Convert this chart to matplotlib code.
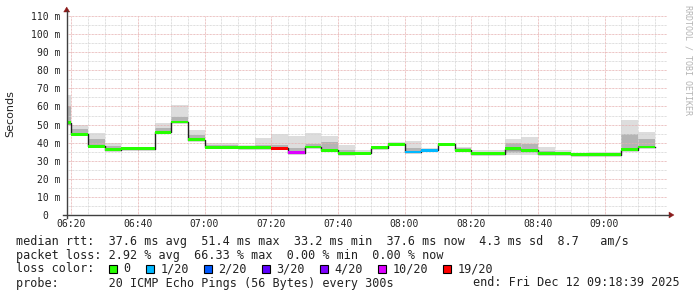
import matplotlib
matplotlib.use("Agg")
import matplotlib.pyplot as plt
from matplotlib.lines import Line2D
from matplotlib.patches import Rectangle, Polygon

# ---------------- data ----------------
times = ["06:15", "06:20", "06:25", "06:30", "06:35", "06:40", "06:45", "06:50",
         "06:55", "07:00", "07:05", "07:10", "07:15", "07:20", "07:25", "07:30",
         "07:35", "07:40", "07:45", "07:50", "07:55", "08:00", "08:05", "08:10",
         "08:15", "08:20", "08:25", "08:30", "08:35", "08:40", "08:45", "08:50",
         "08:55", "09:00", "09:05", "09:10"]
median = [51.0, 44.5, 38.0, 36.1, 36.7, 36.7, 45.7, 51.4,
          41.7, 37.4, 37.4, 37.1, 37.1, 36.8, 34.5, 37.6,
          35.8, 34.1, 34.1, 37.3, 39.0, 34.8, 35.8, 39.0,
          35.8, 33.9, 33.9, 36.6, 35.8, 33.8, 33.8, 33.2,
          33.2, 33.2, 36.2, 37.6]
smoke_hi = [66.3, 49.7, 45.5, 40.0, 36.7, 36.7, 51.0, 60.8,
            47.0, 39.6, 39.6, 38.5, 42.4, 44.8, 43.7, 45.5,
            43.7, 38.7, 35.9, 37.3, 40.2, 40.9, 37.2, 40.0,
            37.8, 35.9, 35.9, 42.0, 43.3, 37.8, 35.9, 33.8,
            34.8, 34.8, 52.5, 46.0]
smoke_lo = [49.5, 44.0, 37.5, 35.6, 36.7, 36.7, 45.2, 50.8,
            41.2, 37.0, 37.0, 36.8, 36.8, 36.5, 34.0, 37.2,
            35.0, 32.5, 33.8, 37.3, 38.8, 34.5, 35.5, 38.5,
            35.3, 33.6, 33.6, 33.2, 33.0, 33.2, 33.5, 33.0,
            33.0, 33.0, 35.5, 37.0]
inner_hi = [60.0, 47.5, 42.0, 38.0, 36.7, 36.7, 48.0, 54.0,
            44.0, 38.5, 38.5, 37.8, 38.5, 38.5, 37.0, 39.0,
            40.5, 36.0, 35.0, 37.3, 39.6, 37.0, 36.5, 39.5,
            36.8, 34.8, 34.8, 40.0, 39.0, 35.5, 34.8, 33.5,
            34.0, 34.0, 45.0, 42.0]
inner_lo = [50.0, 44.0, 37.5, 35.8, 36.7, 36.7, 45.4, 51.0,
            41.4, 37.2, 37.2, 37.0, 37.0, 36.7, 34.3, 37.4,
            35.3, 33.5, 34.0, 37.3, 38.9, 34.6, 35.6, 38.7,
            35.5, 33.7, 33.7, 34.5, 34.2, 33.5, 33.6, 33.1,
            33.1, 33.1, 36.0, 37.2]
lost_pings = [0, 0, 0, 0, 0, 0, 0, 0,
              0, 0, 0, 0, 0, 19, 12, 0,
              0, 0, 0, 0, 0, 1, 1, 0,
              0, 0, 0, 0, 0, 0, 0, 0,
              0, 0, 0, 0]

loss_levels = [0, 1, 2, 3, 4, 10, 19]
loss_names = ["0", "1/20", "2/20", "3/20", "4/20", "10/20", "19/20"]
loss_colors = ["#26ff00", "#00b8ff", "#0059ff", "#5e00ff", "#7e00ff", "#dd00ff", "#ff0000"]

xtick_labels = ["06:20", "06:40", "07:00", "07:20", "07:40", "08:00", "08:20", "08:40", "09:00"]
ytick_values = [0, 10, 20, 30, 40, 50, 60, 70, 80, 90, 100, 110]
ytick_labels = ["0  ", "10 m", "20 m", "30 m", "40 m", "50 m", "60 m", "70 m",
                "80 m", "90 m", "100 m", "110 m"]

legend_rtt = "median rtt:  37.6 ms avg  51.4 ms max  33.2 ms min  37.6 ms now  4.3 ms sd  8.7   am/s"
legend_loss = "packet loss: 2.92 % avg  66.33 % max  0.00 % min  0.00 % now"
legend_color_title = "loss color:"
legend_probe = "probe:       20 ICMP Echo Pings (56 Bytes) every 300s"
legend_end = "end: Fri Dec 12 09:18:39 2025"
ylabel = "Seconds"
watermark = "RRDTOOL / TOBI OETIKER"

start_label = "06:18:39"
end_label = "09:18:39"
step_minutes = 5

# ---------------- helpers ----------------
def to_min(s):
    parts = [int(p) for p in s.split(":")]
    m = parts[0] * 60 + parts[1]
    if len(parts) > 2:
        m += parts[2] / 60.0
    return m

W, H = 697, 297
DPI = 100
fig = plt.figure(figsize=(W / DPI, H / DPI), dpi=DPI)
fig.patch.set_facecolor("white")

def fx(x):
    return x / W

def fy(y):
    return 1 - y / H

MONO = "DejaVu Sans Mono"
TXT = "#222222"

ax_left, ax_right, ax_top, ax_bottom = 66.7, 666.7, 16.0, 215.0
ax = fig.add_axes([fx(ax_left), fy(ax_bottom), (ax_right - ax_left) / W, (ax_bottom - ax_top) / H])
ax.set_facecolor("white")
x0, x1 = to_min(start_label), to_min(end_label)
ax.set_xlim(x0, x1)
ax.set_ylim(0, 110)
for sp in ax.spines.values():
    sp.set_visible(False)

tx = [to_min(t) for t in times]

# smoke
for i, t in enumerate(tx):
    if smoke_hi[i] > smoke_lo[i]:
        ax.add_patch(Rectangle((t, smoke_lo[i]), step_minutes, smoke_hi[i] - smoke_lo[i],
                               facecolor="#dddddd", edgecolor="none", zorder=1))
    if inner_hi[i] > inner_lo[i]:
        ax.add_patch(Rectangle((t, inner_lo[i]), step_minutes, inner_hi[i] - inner_lo[i],
                               facecolor="#b4b4b4", edgecolor="none", zorder=1.1))

# grid
dash = (0, (0.72, 0.72))
minor_y = [v + 5 for v in ytick_values[:-1]]
for v in minor_y:
    ax.axhline(v, color="#d4d4d4", lw=0.72, ls=dash, zorder=1.5)
major_x = [to_min(l) for l in xtick_labels]
mx = major_x[0] - 5
while mx < x1:
    if mx not in major_x and mx > x0:
        ax.axvline(mx, color="#d4d4d4", lw=0.72, ls=dash, zorder=1.5)
    mx += 5
for v in ytick_values[1:]:
    ax.axhline(v, color="#e6b0b0", lw=0.72, ls=dash, zorder=1.6)
for v in major_x:
    ax.axvline(v, color="#e6b0b0", lw=0.72, ls=dash, zorder=1.6)

# median step line
sx = tx + [tx[-1] + step_minutes]
sy = median + [median[-1]]
ax.step(sx, sy, where="post", color="#202020", lw=1.0, zorder=2)

# colored median band
def loss_color(n):
    c = loss_colors[0]
    for lvl, col in zip(loss_levels, loss_colors):
        if n >= lvl:
            c = col
    return c

band = 0.8
for i, t in enumerate(tx):
    ax.add_patch(Rectangle((t, median[i] - band), step_minutes, 2 * band,
                           facecolor=loss_color(lost_pings[i]), edgecolor="none", zorder=3))

# ticks
ax.set_xticks(major_x)
ax.set_xticklabels(xtick_labels, fontfamily=MONO, fontsize=7, color=TXT)
ax.set_yticks(ytick_values)
ax.set_yticklabels(ytick_labels, fontfamily=MONO, fontsize=7, color=TXT)
ax.tick_params(axis="both", length=0)
ax.tick_params(axis="x", pad=3.2)
ax.tick_params(axis="y", pad=4.6)

# axis lines with arrows
axis_col = "#404040"
arrow_col = "#8b1a1a"
fig.add_artist(Line2D([fx(63), fx(669)], [fy(ax_bottom), fy(ax_bottom)], color=axis_col, lw=1.0,
                      transform=fig.transFigure))
fig.add_artist(Line2D([fx(ax_left), fx(ax_left)], [fy(218), fy(11)], color=axis_col, lw=1.0,
                      transform=fig.transFigure))
fig.add_artist(Polygon([[fx(669), fy(212)], [fx(674), fy(ax_bottom)], [fx(669), fy(218)]],
                       closed=True, facecolor=arrow_col, edgecolor=arrow_col, lw=0.3,
                       transform=fig.transFigure))
fig.add_artist(Polygon([[fx(63.7), fy(12)], [fx(ax_left), fy(7)], [fx(69.7), fy(12)]],
                       closed=True, facecolor=arrow_col, edgecolor=arrow_col, lw=0.3,
                       transform=fig.transFigure))

# y label & watermark
fig.text(fx(10), fy(114), ylabel, rotation=90, ha="center", va="center",
         fontfamily="DejaVu Sans", fontsize=8, color=TXT)
fig.text(fx(688), fy(60), watermark, rotation=-90, ha="center", va="center",
         fontfamily=MONO, fontsize=6, color="#b4b4b4")

# legend
LFS = 8.43
char_w = 7.05
fig.text(fx(16), fy(241.3), legend_rtt, ha="left", va="center", fontfamily=MONO, fontsize=LFS, color=TXT)
fig.text(fx(16), fy(255.3), legend_loss, ha="left", va="center", fontfamily=MONO, fontsize=LFS, color=TXT)
fig.text(fx(16), fy(269.0), legend_color_title, ha="left", va="center", fontfamily=MONO, fontsize=LFS, color=TXT)
fig.text(fx(16), fy(283.0), legend_probe, ha="left", va="center", fontfamily=MONO, fontsize=LFS, color=TXT)
fig.text(fx(680), fy(283.0), legend_end, ha="right", va="center", fontfamily=MONO, fontsize=LFS, color=TXT)

bx = 108.7
for name, col in zip(loss_names, loss_colors):
    fig.add_artist(Rectangle((fx(bx), fy(273.3)), 8 / W, 8.6 / H, facecolor=col, edgecolor="black",
                             lw=0.8, transform=fig.transFigure))
    fig.text(fx(bx + 14.7), fy(269.0), name, ha="left", va="center", fontfamily=MONO,
             fontsize=LFS, color=TXT)
    bx += 14.7 + len(name) * char_w + 15.2

fig.savefig("out.png", dpi=DPI, facecolor="white")
